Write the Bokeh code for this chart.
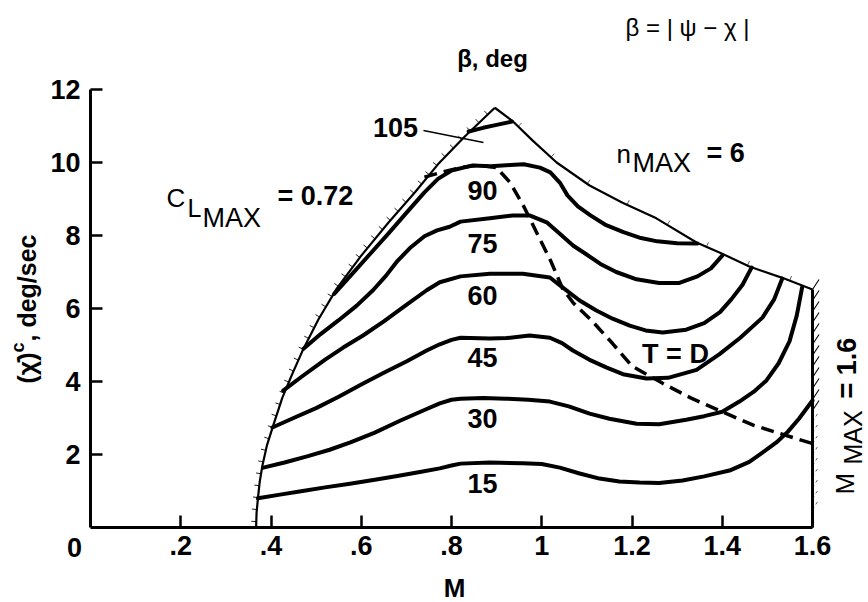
import numpy as np
from bokeh.plotting import figure
from bokeh.models import Range1d, FixedTicker, Label
from bokeh.embed import file_html
from bokeh.resources import INLINE

# ---- boundaries of the turn envelope (M, chi-dot deg/sec) ----
cl_mach = [0.367, 0.368, 0.371, 0.375, 0.381, 0.391, 0.405, 0.425, 0.447, 0.472,
           0.505, 0.546, 0.60, 0.66, 0.72, 0.77, 0.83, 0.896]
cl_rate = [0.0, 0.4, 0.8, 1.25, 1.7, 2.25, 2.8, 3.55, 4.2, 4.9,
           5.7, 6.55, 7.45, 8.35, 9.2, 9.95, 10.72, 11.5]

nmax_mach = [0.896, 0.934, 0.98, 1.033, 1.106, 1.179, 1.254, 1.343, 1.40, 1.46, 1.533, 1.60]
nmax_rate = [11.5, 11.15, 10.6, 10.0, 9.37, 8.9, 8.47, 7.81, 7.5, 7.15, 6.84, 6.52]

mmax_mach = [1.60, 1.60]
mmax_rate = [6.52, 0.0]

# ---- constant-beta contours ----
b15_mach = [0.371, 0.42, 0.47, 0.52, 0.575, 0.63, 0.68, 0.73, 0.774, 0.80, 0.82, 0.885,
            0.958, 1.00, 1.04, 1.084, 1.128, 1.172, 1.217, 1.26, 1.312, 1.36, 1.416,
            1.46, 1.489, 1.52, 1.545, 1.57, 1.60]
b15_rate = [0.80, 0.90, 1.00, 1.10, 1.20, 1.31, 1.41, 1.52, 1.62, 1.70, 1.75, 1.78,
            1.76, 1.74, 1.64, 1.48, 1.34, 1.26, 1.23, 1.22, 1.29, 1.40, 1.56,
            1.80, 2.05, 2.33, 2.62, 2.98, 3.48]

b30_mach = [0.383, 0.43, 0.48, 0.53, 0.576, 0.63, 0.687, 0.74, 0.774, 0.80, 0.82, 0.87,
            0.92, 0.97, 1.018, 1.06, 1.106, 1.15, 1.21, 1.26, 1.32, 1.36, 1.40, 1.438,
            1.47, 1.498, 1.525, 1.549, 1.565, 1.577]
b30_rate = [1.64, 1.78, 1.95, 2.13, 2.33, 2.6, 2.93, 3.22, 3.40, 3.50, 3.53, 3.55,
            3.53, 3.50, 3.45, 3.32, 3.12, 2.98, 2.84, 2.83, 2.95, 3.05, 3.17, 3.45,
            3.72, 4.03, 4.5, 5.1, 5.8, 6.58]

b45_mach = [0.403, 0.45, 0.50, 0.55, 0.60, 0.65, 0.70, 0.745, 0.774, 0.80, 0.82, 0.885,
            0.922, 0.973, 1.018, 1.045, 1.069, 1.105, 1.144, 1.18, 1.232, 1.28, 1.343,
            1.394, 1.44, 1.489, 1.515, 1.533]
b45_rate = [2.74, 3.0, 3.27, 3.58, 3.92, 4.24, 4.55, 4.85, 5.02, 5.14, 5.2, 5.18,
            5.19, 5.26, 5.2, 5.05, 4.85, 4.6, 4.38, 4.2, 4.08, 4.1, 4.32,
            4.75, 5.2, 5.75, 6.25, 6.82]

b60_mach = [0.427, 0.47, 0.52, 0.56, 0.604, 0.65, 0.70, 0.745, 0.774, 0.82, 0.885, 0.958,
            1.018, 1.046, 1.084, 1.12, 1.157, 1.195, 1.23, 1.268, 1.32, 1.36, 1.395,
            1.42, 1.445, 1.465]
b60_rate = [3.75, 4.15, 4.6, 4.93, 5.26, 5.65, 6.1, 6.5, 6.72, 6.88, 6.95, 6.95,
            6.85, 6.58, 6.22, 5.95, 5.72, 5.53, 5.4, 5.34, 5.42, 5.6, 5.9,
            6.25, 6.65, 7.12]

b75_mach = [0.472, 0.51, 0.55, 0.59, 0.626, 0.655, 0.68, 0.71, 0.74, 0.768, 0.796, 0.82,
            0.885, 0.936, 0.973, 1.011, 1.04, 1.07, 1.097, 1.13, 1.165, 1.21, 1.26,
            1.305, 1.345, 1.375, 1.40]
b75_rate = [4.9, 5.3, 5.68, 6.08, 6.5, 6.9, 7.3, 7.68, 7.98, 8.14, 8.24, 8.38,
            8.47, 8.55, 8.55, 8.36, 8.05, 7.72, 7.5, 7.22, 7.0, 6.8, 6.7,
            6.7, 6.88, 7.1, 7.45]

b90_mach = [0.54, 0.58, 0.62, 0.66, 0.70, 0.74, 0.77, 0.80, 0.847, 0.887, 0.93, 0.96,
            0.996, 1.019, 1.04, 1.057, 1.08, 1.108, 1.14, 1.181, 1.22, 1.256, 1.30, 1.345]
b90_rate = [6.4, 6.95, 7.5, 8.05, 8.62, 9.18, 9.55, 9.78, 9.92, 9.9, 9.93, 9.95,
            9.86, 9.73, 9.45, 9.1, 8.8, 8.55, 8.3, 8.09, 7.93, 7.84, 7.79, 7.78]

b105_mach = [0.838, 0.87, 0.90, 0.934]
b105_rate = [10.85, 10.95, 11.03, 11.12]

# ---- thrust = drag line ----
td_mach = [0.74, 0.78, 0.82, 0.86, 0.90, 0.93, 0.96, 0.99, 1.02, 1.046, 1.07, 1.11,
           1.157, 1.20, 1.268, 1.33, 1.40, 1.47, 1.542, 1.60]
td_rate = [9.6, 9.74, 9.86, 9.93, 9.86, 9.45, 8.8, 8.05, 7.3, 6.55, 6.15, 5.68,
           5.04, 4.42, 3.95, 3.55, 3.17, 2.8, 2.52, 2.3]

beta_labels = ["15", "30", "45", "60", "75", "90", "105"]

x_ticks = [0.2, 0.4, 0.6, 0.8, 1.0, 1.2, 1.4, 1.6]
x_tick_labels = [".2", ".4", ".6", ".8", "1", "1.2", "1.4", "1.6"]
y_ticks = [2, 4, 6, 8, 10, 12]

# ---- layout: the frame fills the page; axes sit at M = 0 and rate = 0 ----
W, H = 868, 602
LEFT, BOTTOM_PX = 90, 527
KX = 722 / 1.6          # pixels per unit Mach
KY = 438 / 12.0         # pixels per deg/sec

FONT = "Liberation Sans"


def dx(px):
    return (px - LEFT) / KX


def dy(py):
    return (BOTTOM_PX - py) / KY


p = figure(width=W, height=H,
           x_range=Range1d(dx(0), dx(W)), y_range=Range1d(dy(H), dy(0)),
           output_backend="svg", toolbar_location=None, min_border=0,
           background_fill_color="white", border_fill_color="white")
p.outline_line_color = None
p.grid.visible = False

for ax in (p.xaxis[0], p.yaxis[0]):
    ax.fixed_location = 0
    ax.axis_line_width = 3
    ax.axis_line_color = "black"
    ax.major_tick_line_width = 2.5
    ax.major_tick_line_color = "black"
    ax.major_tick_in = 12
    ax.major_tick_out = 0
    ax.minor_tick_line_color = None
    ax.major_label_text_font = FONT
    ax.major_label_text_font_style = "bold"
    ax.major_label_text_font_size = "27px"
    ax.major_label_text_color = "black"

p.xaxis.bounds = (0, 1.6)
p.xaxis.ticker = FixedTicker(ticks=x_ticks)
p.xaxis.major_label_overrides = dict(zip(x_ticks, x_tick_labels))
p.xaxis.major_label_standoff = 8
p.yaxis.bounds = (0, 12)
p.yaxis.ticker = FixedTicker(ticks=y_ticks)
p.yaxis.major_label_standoff = 10


# ---- hatch marks along a boundary (computed in screen pixels) ----
def hatch(xs, ys, spacing, length, rot_deg=0.0, start=0.0):
    X = np.asarray(xs, float) * KX
    Y = np.asarray(ys, float) * KY
    seg = np.hypot(np.diff(X), np.diff(Y))
    cum = np.concatenate([[0], np.cumsum(seg)])
    x0, y0, x1, y1 = [], [], [], []
    c, s = np.cos(np.radians(rot_deg)), np.sin(np.radians(rot_deg))
    for t in np.arange(start, cum[-1], spacing):
        i = min(np.searchsorted(cum, t, side="right") - 1, len(seg) - 1)
        f = (t - cum[i]) / seg[i]
        px = X[i] + f * (X[i + 1] - X[i])
        py = Y[i] + f * (Y[i + 1] - Y[i])
        tx, ty = (X[i + 1] - X[i]) / seg[i], (Y[i + 1] - Y[i]) / seg[i]
        nx, ny = -ty, tx
        rx, ry = nx * c - ny * s, nx * s + ny * c
        x0.append(px / KX)
        y0.append(py / KY)
        x1.append((px + rx * length) / KX)
        y1.append((py + ry * length) / KY)
    return x0, y0, x1, y1


h = hatch(cl_mach, cl_rate, 12, 5, start=6)
p.segment(*h, line_color="#222222", line_width=1.0)
h = hatch(nmax_mach, nmax_rate, 45, 5, start=30)
p.segment(*h, line_color="#333333", line_width=1.0, line_alpha=0.8)
h = hatch(mmax_mach, mmax_rate, 11, 12, rot_deg=57, start=0)
upper = [k for k, v in enumerate(h[1]) if v > 3.0]
lower = [k for k, v in enumerate(h[1]) if 0.3 < v <= 3.0]
p.segment([h[0][k] for k in upper], [h[1][k] for k in upper],
          [h[2][k] for k in upper], [h[3][k] for k in upper],
          line_color="black", line_width=1.1)
p.segment([h[0][k] for k in lower], [h[1][k] for k in lower],
          [h[2][k] for k in lower], [h[3][k] for k in lower],
          line_color="black", line_width=1.0, line_dash="3 3", line_alpha=0.6)

# ---- boundaries ----
p.line(cl_mach, cl_rate, line_color="black", line_width=2.2, line_join="round")
p.line(nmax_mach, nmax_rate, line_color="black", line_width=2.2, line_join="round")
p.line(mmax_mach, mmax_rate, line_color="black", line_width=3)

# ---- contours ----
contours = [(b15_mach, b15_rate), (b30_mach, b30_rate), (b45_mach, b45_rate),
            (b60_mach, b60_rate), (b75_mach, b75_rate), (b90_mach, b90_rate),
            (b105_mach, b105_rate)]
for xs, ys in contours:
    p.line(xs, ys, line_color="black", line_width=4, line_join="round", line_cap="round")

p.line(td_mach, td_rate, line_color="black", line_width=3.5, line_dash="13 7")

# leader for the 105 label
p.segment([dx(423)], [dy(130)], [dx(483)], [dy(142)], line_color="black", line_width=1.3)

BASE_SHIFT = 0.37   # rendered glyph bottoms sit this many em below the anchor


def text(t, px, py, size, bold=True, align="left", angle=0.0, font=FONT):
    if angle:
        px = px - BASE_SHIFT * size
    else:
        py = py - BASE_SHIFT * size
    p.add_layout(Label(x=dx(px), y=dy(py), text=t, text_font=font,
                       text_font_size=f"{size}px",
                       text_font_style="bold" if bold else "normal",
                       text_align=align, text_baseline="alphabetic",
                       angle=angle, text_color="black"))


# contour values
beta_pos = [(482, 493), (482, 428), (482, 367), (482, 305), (482, 253), (482, 200), (395, 137)]
for lab, (px, py) in zip(beta_labels, beta_pos):
    text(lab, px, py, 27, align="center")

text("T = D", 675, 363, 27, align="center")
text("\u03b2, deg", 492, 67, 24, align="center")
text("\u03b2 = | \u03c8 \u2212 \u03c7 |", 687, 36, 24, bold=False, align="center")

# C_L max annotation
text("C", 166, 207, 26, bold=False)
text("L", 187, 217, 25, bold=False)
text("MAX", 202, 227, 27, bold=False)
text("= 0.72", 277, 205, 27)

# n max annotation
text("n", 616, 163, 26, bold=False)
text("MAX", 632, 172, 27, bold=False)
text("= 6", 706, 162, 27)

# M max annotation (rotated)
text("M", 854, 494, 26, bold=False, angle=np.pi / 2)
text("MAX", 862, 464, 25, bold=False, angle=np.pi / 2)
text("= 1.6", 856, 398, 27, angle=np.pi / 2)

# axis titles
text("0", 74, 557, 27, align="center")
text("M", 454, 597, 26, align="center")
text("(\u03c7\u0307)", 36, 383, 25, angle=np.pi / 2)
text("c", 24, 352, 18, angle=np.pi / 2)
text(", deg/sec", 36, 341, 25, angle=np.pi / 2)

open("out.html", "w").write(file_html(p, INLINE))
